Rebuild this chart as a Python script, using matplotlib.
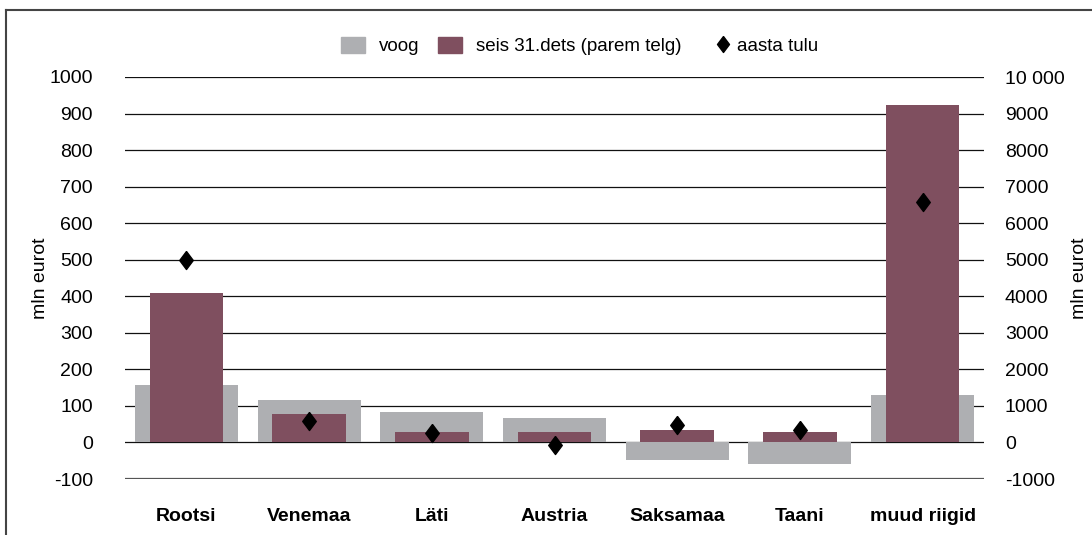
import matplotlib.pyplot as plt
import matplotlib.ticker as mticker
from matplotlib.lines import Line2D
from matplotlib.legend_handler import HandlerLine2D
import numpy as np

plt.rcParams['font.family'] = ['Liberation Sans', 'DejaVu Sans']
plt.rcParams['axes.unicode_minus'] = False

# data
riigid = ['Rootsi', 'Venemaa', 'Läti', 'Austria', 'Saksamaa', 'Taani', 'muud riigid']
voog = [156, 117, 83, 67, -47, -58, 129]                  # left axis
seis = [4100, 790, 290, 280, 350, 280, 9230]              # right axis
tulu = [500, 58, 27, -6, 47, 33, 657]                     # left axis

c_voog = '#aeafb2'
c_seis = '#7f4f5f'
fs = 14


class ShiftedMarker(HandlerLine2D):
    # put the diamond near the right end of the handle box, like the original legend
    def create_artists(self, legend, orig_handle, xdescent, ydescent,
                       width, height, fontsize, trans):
        arts = super().create_artists(legend, orig_handle, xdescent, ydescent,
                                      width, height, fontsize, trans)
        for a in arts:
            a.set_xdata(np.asarray(a.get_xdata()) + width * 0.5)
        return arts


fig = plt.figure(figsize=(10.92, 5.35), dpi=100)
ax = fig.add_axes([125 / 1092, 1 - 479 / 535, (984 - 125) / 1092, (479 - 77) / 535])
ax2 = ax.twinx()

x = np.arange(len(riigid))

# grid lines
for v in range(-100, 1001, 100):
    if v == -100:
        ax.axhline(v, color='#555555', lw=1.6, zorder=0)
    else:
        ax.axhline(v, color='#111111', lw=0.9, zorder=0)

ax.bar(x, voog, width=0.84, color=c_voog, zorder=2)
ax2.bar(x, seis, width=0.6, color=c_seis, zorder=2)

diamond = [(0, 1), (0.75, 0), (0, -1), (-0.75, 0), (0, 1)]
ax2.plot(x, tulu, linestyle='none', marker=diamond, markersize=13,
         color='black', transform=ax.transData, zorder=5)

ax.set_xlim(-0.5, len(riigid) - 0.5)
ax.set_ylim(-100, 1000)
ax2.set_ylim(-1000, 10000)
ax.set_yticks(range(-100, 1001, 100))
ax2.set_yticks(range(-1000, 10001, 1000))
ax2.yaxis.set_major_formatter(mticker.FuncFormatter(
    lambda v, p: '10 000' if v == 10000 else '%d' % v))

ax.set_xticks(x)
ax.set_xticklabels(riigid, fontweight='bold', fontsize=fs)
ax.tick_params(axis='x', length=0, pad=21)
ax.tick_params(axis='y', length=0, pad=23, labelsize=fs)
ax2.tick_params(axis='y', length=0, pad=15, labelsize=fs)

for a in (ax, ax2):
    for s in a.spines.values():
        s.set_visible(False)

ax.set_ylabel('mln eurot', fontsize=fs)
ax.yaxis.set_label_coords(-76 / 859, 0.5)
ax2.set_ylabel('mln eurot', fontsize=fs)
ax2.yaxis.set_label_coords(1 + 87 / 859, 0.5)

h_tulu = Line2D([], [], linestyle='none', marker=diamond, markersize=11.5, color='black')
handles = [
    plt.Rectangle((0, 0), 1, 1, color=c_voog),
    plt.Rectangle((0, 0), 1, 1, color=c_seis),
    h_tulu,
]
fig.legend(handles, ['voog', 'seis 31.dets (parem telg)', 'aasta tulu'],
           loc='center', bbox_to_anchor=(580 / 1092, 1 - 46 / 535), ncol=3,
           frameon=False, fontsize=13.5, handlelength=1.25, handleheight=1.0,
           handletextpad=0.75, columnspacing=1.0, borderpad=0,
           handler_map={h_tulu: ShiftedMarker()})

# partial frame around the chart
fig.add_artist(Line2D([6 / 1092, 6 / 1092], [0, 1 - 10 / 535], color='#444444', lw=1.5))
fig.add_artist(Line2D([6 / 1092, 1], [1 - 10 / 535, 1 - 10 / 535], color='#444444', lw=1.5))

fig.savefig('out.png', dpi=100)
